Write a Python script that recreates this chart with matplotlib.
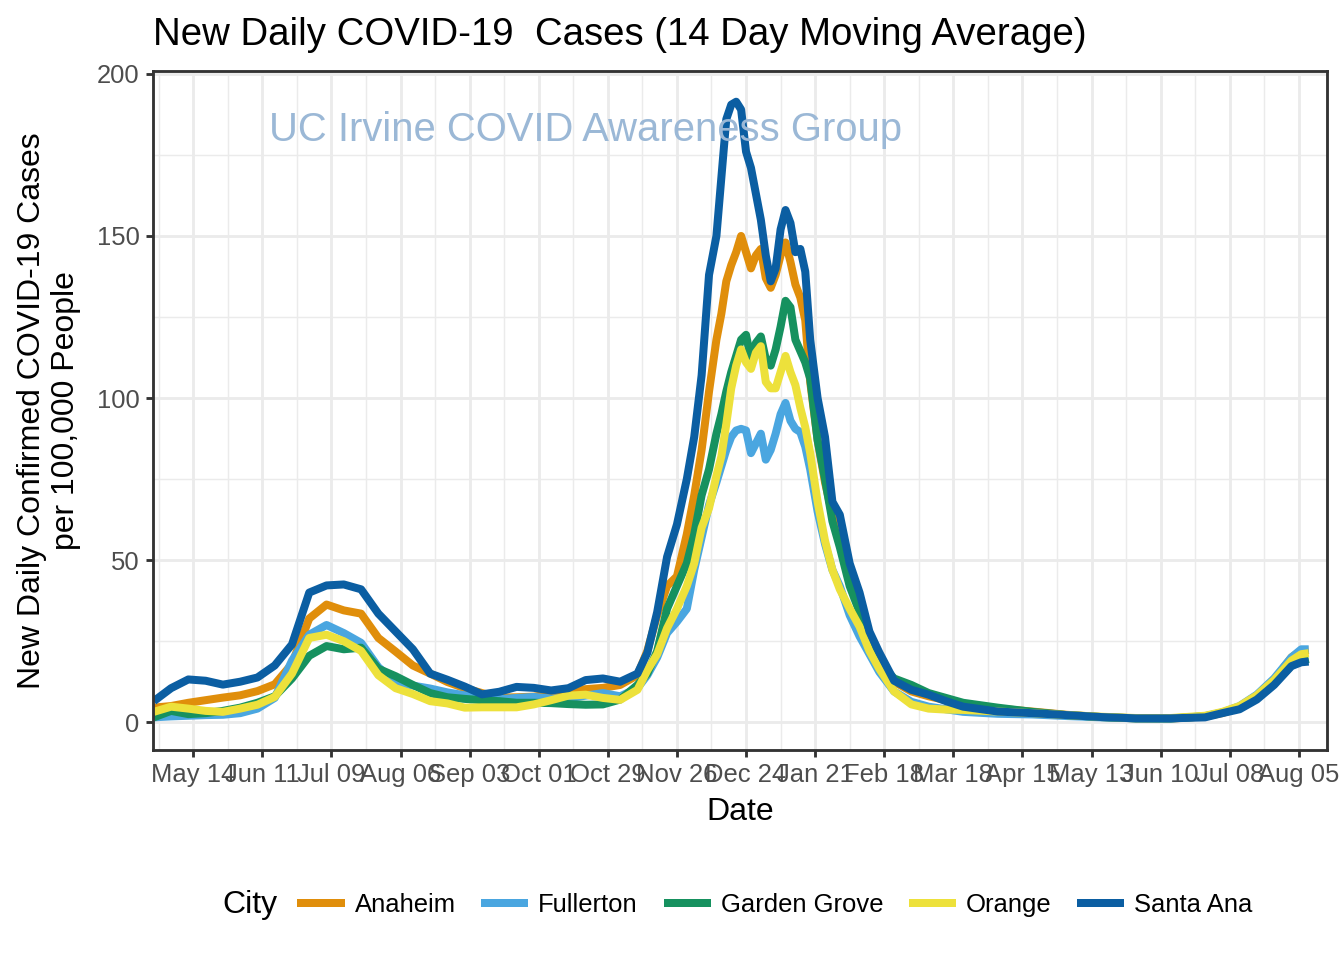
import numpy as np
import pandas as pd
import matplotlib
matplotlib.use('Agg')
import matplotlib.pyplot as plt
import matplotlib.dates as mdates

plt.rcParams['font.family'] = ['Liberation Sans', 'DejaVu Sans']

# days counted from 2020-05-14
day = [-16, -9, -2, 5, 12, 19, 26, 33, 40, 47, 54, 61, 68, 75, 82, 89, 96, 103,
       110, 117, 124, 131, 138, 145, 152, 159, 166, 173, 180,
       184, 188, 192, 196, 200, 203, 206, 209, 212,
       214, 216, 218, 220, 222, 224, 226, 228, 230, 232, 234, 236, 238, 240,
       242, 244, 246, 248, 250, 253, 256, 259, 262, 266, 270, 274, 278,
       284, 291, 298, 305, 312, 326, 340, 354, 368, 382, 396, 410,
       417, 424, 431, 438, 445, 449, 452]

anaheim = [4.5, 5, 6, 6.8, 7.6, 8.3, 9.6, 11.7, 18, 32, 36.3, 34.5, 33.5, 26, 21.8, 17.5, 15, 12.4,
           10.5, 9, 7.6, 7.7, 7.9, 8.6, 9.6, 10.2, 10.6, 11.5, 14.5,
           22, 33, 42, 45, 58, 70, 84, 102, 118,
           126, 136, 141, 145, 150, 145, 140, 144, 146, 137, 134, 138, 144, 148,
           142, 135, 131, 124, 105, 87, 74, 64, 58, 46, 36, 26, 19.5,
           12.5, 9.5, 8, 6.8, 5.5, 4.2, 3.3, 2.3, 1.6, 1.2, 1.1, 1.8,
           2.8, 4.5, 8, 13, 20, 22, 22.3]

fullerton = [1.5, 1.8, 2, 2.2, 2.3, 2.8, 4.2, 7.5, 19, 27, 30, 27.5, 24.5, 17, 12.4, 11.3, 10.4, 9.2,
             8.3, 7.5, 7.1, 7.5, 7.8, 7.3, 7.4, 8.2, 9, 8, 10.5,
             14.5, 20, 27.5, 31, 35, 47, 57, 67, 74,
             79, 84, 88, 90, 90.5, 90, 83, 86, 89, 81, 84, 89, 95, 98.5,
             93, 90.5, 89.5, 85, 78, 65, 55, 47, 42, 33, 26.5, 21, 15.5,
             9.5, 6.3, 4.8, 4, 3.2, 2.6, 2.4, 1.9, 1.5, 1.2, 1.1, 1.9,
             3, 5, 8.5, 13.5, 20, 22.5, 22.5]

garden_grove = [1.5, 3.5, 2.5, 2.8, 3.5, 4.5, 6, 8, 13.5, 20.5, 23.5, 22.5, 23, 16.5, 14.2, 11.5, 9, 7.7,
                7.2, 6.8, 6.5, 6, 6, 5.9, 5.6, 5.4, 5.5, 7, 11.5,
                15, 22, 35, 42, 49, 58, 70, 78, 89,
                95, 102, 108, 113, 118, 119.5, 112, 117, 119, 112, 110, 115, 122, 130,
                128, 118, 114.5, 111, 106, 87, 75, 62, 54, 42, 34, 24, 18.5,
                13.5, 11.5, 9, 7.5, 6, 4.5, 3.2, 2.2, 1.6, 1.2, 1.2, 1.8,
                3, 4.3, 7.5, 12, 17.5, 19, 19.5]

orange = [3.2, 4.8, 4.2, 3.5, 3.2, 4.2, 5.4, 7.8, 15, 26, 27, 25, 22, 14.5, 10.5, 8.7, 6.5, 5.8,
          4.5, 4.6, 4.6, 4.6, 5.5, 6.8, 8.2, 8.5, 7.5, 6.9, 10,
          16, 21, 29, 35, 42, 49, 60, 66, 76,
          82, 92, 103, 110, 115, 111, 109, 114, 116, 105, 103, 103, 108, 113,
          108, 104, 97, 91, 83, 68, 56, 47, 41, 35, 29.5, 22, 16.5,
          9.5, 5.5, 4.2, 3.9, 3.8, 3.3, 2.8, 2.2, 1.7, 1.3, 1.3, 2,
          3.2, 5, 8.3, 13, 19, 21, 21.3]

santa_ana = [6.5, 10.5, 13.2, 12.8, 11.6, 12.5, 13.8, 17.5, 24, 40, 42.2, 42.5, 41, 33.5, 28, 22.5, 15, 13.1,
             11, 8.6, 9.4, 10.9, 10.6, 9.8, 10.5, 13, 13.5, 12.5, 15,
             21.4, 34, 51, 61, 75, 88, 107, 138, 150,
             168, 186, 190.5, 191.4, 189, 176, 171, 163, 155, 144, 136, 140, 152, 158,
             154, 145, 146, 139, 118, 100, 88, 68, 64, 49, 40, 28, 21.5,
             12.8, 10, 8.5, 6.5, 4.8, 3.3, 2.8, 2.2, 1.6, 1.2, 1.2, 1.5,
             2.8, 4, 7, 11.5, 17.3, 18.5, 18.7]

cities = ['Anaheim', 'Fullerton', 'Garden Grove', 'Orange', 'Santa Ana']
series = [anaheim, fullerton, garden_grove, orange, santa_ana]
colors = ['#E08E0B', '#4AA6E0', '#16915F', '#EDE13B', '#0B5EA2']

dates = pd.Timestamp('2020-05-14') + pd.to_timedelta(day, unit='D')

fig = plt.figure(figsize=(7, 5), dpi=192)
ax = fig.add_axes([0.1136, 0.2188, 0.8737, 0.7073])

lines = []
for name, vals, c in zip(cities, series, colors):
    ln, = ax.plot(dates, vals, color=c, lw=3.0, solid_capstyle='butt',
                  solid_joinstyle='round', label=name)
    lines.append(ln)

major = pd.date_range('2020-05-14', periods=17, freq='28D')
minor = pd.date_range('2020-04-30', periods=17, freq='28D')
ax.set_xticks(major)
ax.set_xticks(minor, minor=True)
ax.xaxis.set_major_formatter(mdates.DateFormatter('%b %d'))
ax.set_yticks([0, 50, 100, 150, 200])
ax.set_yticks([25, 75, 125, 175], minor=True)

ax.set_xlim(pd.Timestamp('2020-05-14') - pd.Timedelta(days=16.45),
            pd.Timestamp('2020-05-14') + pd.Timedelta(days=459.4))
ax.set_ylim(-8.55, 200.9)

ax.grid(which='major', color='#EBEBEB', lw=1.07)
ax.grid(which='minor', color='#EBEBEB', lw=0.53)
ax.set_axisbelow(True)
for s in ax.spines.values():
    s.set_color('#333333')
    s.set_linewidth(1.07)
ax.tick_params(which='major', length=2.75, width=1.07, color='#333333',
               labelsize=9.6, labelcolor='#4D4D4D', pad=2.2)
ax.tick_params(which='minor', length=0)

ax.text(0.3686, 0.913, 'UC Irvine COVID Awareness Group', transform=ax.transAxes,
        ha='center', va='center', fontsize=15, color='#9BB8D6')

fig.text(0.1136, 1 - 35 / 960, 'New Daily COVID-19  Cases (14 Day Moving Average)',
         ha='left', va='center', fontsize=14.4)
fig.text(740 / 1344, 1 - 812 / 960, 'Date', ha='center', va='center', fontsize=12)
fig.text(49 / 1344, 1 - 411 / 960,
         'New Daily Confirmed COVID-19 Cases\nper 100,000 People',
         ha='center', va='center', rotation=90, fontsize=12, multialignment='center')

fig.text(222 / 1344, 1 - 905 / 960, 'City', ha='left', va='center', fontsize=12)
fig.legend(lines, cities, loc='center', bbox_to_anchor=(775 / 1344, 1 - 905 / 960),
           ncol=5, frameon=False, fontsize=9.6, handlelength=1.84,
           handletextpad=0.39, columnspacing=1.0, borderpad=0, borderaxespad=0)

fig.savefig('out.png', dpi=192)
